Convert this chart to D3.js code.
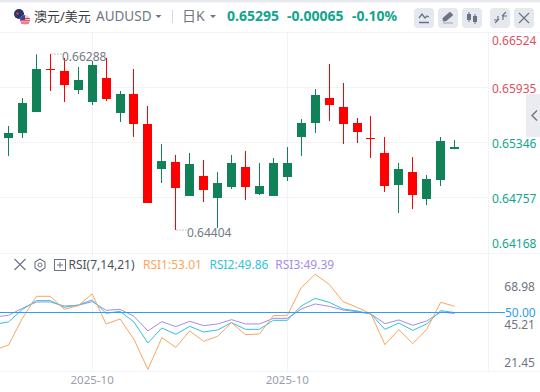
<!DOCTYPE html>
<html>
<head>
<meta charset="utf-8">
<script src="https://cdn.jsdelivr.net/npm/d3@7"></script>
<style>
  html, body { margin: 0; padding: 0; background: #fff; }
  svg { display: block; }
  text { font-family: "Noto Sans", "Noto Sans CJK SC", sans-serif; }
</style>
</head>
<body>
<div id="chart"></div>
<script>
const opens = [0.65442, 0.65764, 0.66128, 0.66124, 0.65956, 0.66010, 0.66171, 0.65806, 0.65860, 0.65539, 0.64693,
  0.65143, 0.64853, 0.65110, 0.64832, 0.64907, 0.65121, 0.64864, 0.64875, 0.65121, 0.65121, 0.65549,
  0.65849, 0.65742, 0.65539, 0.65453, 0.65382, 0.64875, 0.65057, 0.64778, 0.64950, 0.65357, 0.65292];
const closes = [0.65389, 0.65442, 0.65667, 0.66132, 0.66106, 0.65903, 0.65774, 0.66031, 0.65657, 0.65860, 0.65539,
  0.65057, 0.65132, 0.64768, 0.64982, 0.64746, 0.64864, 0.65078, 0.64789, 0.64768, 0.64971, 0.65400,
  0.65549, 0.65817, 0.65721, 0.65549, 0.65390, 0.65228, 0.64886, 0.65025, 0.64736, 0.64939, 0.65274];
const highs = [0.65517, 0.65817, 0.66284, 0.66288, 0.66246, 0.66149, 0.66213, 0.66246, 0.65892, 0.66128, 0.65732,
  0.65325, 0.65207, 0.65228, 0.65153, 0.65025, 0.65207, 0.65250, 0.65121, 0.65175, 0.65292, 0.65592,
  0.65914, 0.66181, 0.65978, 0.65603, 0.65624, 0.65400, 0.65121, 0.65185, 0.64993, 0.65400, 0.65367];
const lows = [0.65196, 0.65389, 0.65667, 0.65892, 0.65774, 0.65860, 0.65742, 0.65785, 0.65560, 0.65400, 0.64693,
  0.64907, 0.64404, 0.64768, 0.64703, 0.64425, 0.64843, 0.64725, 0.64778, 0.64768, 0.64928, 0.65196,
  0.65442, 0.65571, 0.65325, 0.65335, 0.65175, 0.64811, 0.64586, 0.64628, 0.64671, 0.64875, 0.65270];

// rsi arrays start one bar earlier than the candles, that bar is off screen
const rsi1 = [31.15, 33.65, 46.98, 57.98, 57.98, 51.48, 53.31, 59.15, 44.15, 46.65, 36.48, 21.45, 37.32, 32.48, 40.65, 35.48, 37.98,
  44.82, 38.82, 39.15, 48.32, 48.48, 62.32, 68.98, 63.98, 55.32, 52.48, 49.15, 33.82, 41.32, 34.32, 41.48, 54.98, 53.01];
const rsi2 = [43.98, 45.15, 51.48, 55.82, 55.82, 52.48, 53.65, 56.15, 49.48, 50.48, 45.15, 34.65, 42.15, 38.98, 42.98, 40.15, 41.15,
  44.82, 41.48, 41.48, 45.98, 45.98, 53.15, 56.98, 54.98, 51.65, 50.65, 49.15, 41.48, 44.65, 40.98, 44.15, 50.82, 49.86];
const rsi3 = [47.65, 48.48, 51.98, 55.15, 55.15, 53.15, 53.48, 55.32, 50.98, 51.48, 47.98, 40.65, 45.32, 42.82, 45.48, 43.32, 44.15,
  46.32, 44.15, 44.15, 46.98, 46.98, 51.65, 54.15, 52.98, 51.15, 50.32, 49.15, 44.32, 46.15, 43.48, 45.65, 50.15, 49.39];

const priceTicks = [0.66524, 0.65935, 0.65346, 0.64757, 0.64168];
const rsiTicks = [68.98, 45.21, 21.45];
const dateTicks = [[6, "2025-10"], [20, "2025-10"]];

const width = 540, height = 392;
const axisX = 488.5;
const gridColor = "#f2f3f6";
const upColor = "#ff0000", downColor = "#118257";
const teal = "#12a58c", grayText = "#6f7482";

const svg = d3.select("#chart").append("svg").attr("width", width).attr("height", height);

const sx = d3.scaleLinear().domain([0, 32]).range([8.5, 454.6]);
const crisp = v => Math.floor(v) + 0.5;
const sy = d3.scaleLinear().domain([0.64168, 0.66524]).range([252, 32]);
const sr = d3.scaleLinear().domain([21.45, 68.98]).range([369.4, 274.3]);
// rsi labels sit on their own spacing, not on the line scale
const srLabel = d3.scaleLinear().domain([21.45, 68.98]).range([362.7, 286.5]);

function drawFrame(sel) {
    sel.append("rect").attr("width", width).attr("height", 2.5).attr("fill", "#e8eaef");

    const hLines = [32.5, 253.5, 371.5].concat(priceTicks.slice(1, 4).map(d => Math.round(sy(d)) + 0.5));
    sel.selectAll("line.h").data(hLines).join("line")
        .attr("class", "h")
        .attr("x1", 0).attr("x2", d => d === 371.5 || d === 253.5 || d === 32.5 ? width : axisX)
        .attr("y1", d => d).attr("y2", d => d)
        .attr("stroke", gridColor);

    sel.selectAll("line.v").data(dateTicks).join("line")
        .attr("class", "v")
        .attr("x1", d => crisp(sx(d[0]))).attr("x2", d => crisp(sx(d[0])))
        .attr("y1", 32).attr("y2", 371)
        .attr("stroke", gridColor);

    sel.append("line")
        .attr("x1", axisX).attr("x2", axisX).attr("y1", 32).attr("y2", 371)
        .attr("stroke", gridColor);
}

function drawCandles(sel) {
    const idx = d3.range(opens.length);
    const color = i => closes[i] >= opens[i] ? upColor : downColor;

    sel.selectAll("line.wick").data(idx).join("line")
        .attr("class", "wick")
        .attr("x1", i => crisp(sx(i))).attr("x2", i => crisp(sx(i)))
        .attr("y1", i => sy(highs[i])).attr("y2", i => sy(lows[i]))
        .attr("stroke", color);

    sel.selectAll("rect.body").data(idx).join("rect")
        .attr("class", "body")
        .attr("x", i => crisp(sx(i)) - 4.5)
        .attr("width", 9)
        .attr("y", i => Math.round(sy(Math.max(opens[i], closes[i]))))
        .attr("height", i => Math.max(1, Math.round(Math.abs(sy(opens[i]) - sy(closes[i])))))
        .attr("fill", color);
}

function drawExtremes(sel) {
    const hi = d3.max(highs), lo = d3.min(lows);
    const marks = [[highs.indexOf(hi), hi], [lows.indexOf(lo), lo]];
    sel.selectAll("line.dots").data(marks).join("line")
        .attr("class", "dots")
        .attr("x1", d => crisp(sx(d[0])) + 1).attr("x2", d => crisp(sx(d[0])) + 11)
        .attr("y1", d => sy(d[1])).attr("y2", d => sy(d[1]))
        .attr("stroke", "#8a8f9b").attr("stroke-dasharray", "1,2");
    sel.selectAll("text.extreme").data(marks).join("text")
        .attr("class", "extreme")
        .attr("x", d => crisp(sx(d[0])) + 11.5)
        .attr("y", d => sy(d[1]) + 7)
        .attr("font-size", 12).attr("fill", "#747986")
        .text(d => d[1].toFixed(5));
}

function drawPriceAxis(sel) {
    sel.selectAll("text.price").data(priceTicks).join("text")
        .attr("class", "price")
        .attr("x", 492)
        .attr("y", d => Math.min(244, Math.max(40.7, sy(d) + 1.8)) + 4.3)
        .attr("font-size", 12)
        .attr("fill", d => d > 0.65295 && d > 0.654 ? "#e0505f" : teal)
        .text(d => d.toFixed(5));
}

function drawRsi(sel) {
    const line = d3.line().x((_, i) => sx(i - 1)).y(d => sr(d));
    const series = [[rsi3, "#a88ce6"], [rsi2, "#2fc3dd"], [rsi1, "#f9a75e"]];

    sel.selectAll("path.rsi").data(series).join("path")
        .attr("class", "rsi")
        .attr("d", d => line(d[0]))
        .attr("fill", "none")
        .attr("stroke", d => d[1])
        .attr("stroke-width", 1);

    sel.append("line")
        .attr("x1", 0).attr("x2", 505)
        .attr("y1", Math.floor(sr(50)) + 0.5).attr("y2", Math.floor(sr(50)) + 0.5)
        .attr("stroke", "#2f9df4");
    sel.append("text")
        .attr("x", 505).attr("y", sr(50) + 5.2)
        .attr("font-size", 12).attr("fill", "#2f9df4")
        .text("50.00");

    sel.selectAll("text.rsiTick").data(rsiTicks).join("text")
        .attr("class", "rsiTick")
        .attr("x", 535).attr("y", d => srLabel(d) + 4.3)
        .attr("text-anchor", "end")
        .attr("font-size", 12).attr("fill", grayText)
        .text(d => d.toFixed(2));

    sel.selectAll("text.date").data(dateTicks).join("text")
        .attr("class", "date")
        .attr("x", d => sx(d[0])).attr("y", 384)
        .attr("text-anchor", "middle")
        .attr("font-size", 11.5).attr("fill", "#9a9fab")
        .text(d => d[1]);

    // legend row
    const icon = "#6d7283";
    const legend = sel.append("g");
    legend.append("path").attr("d", "M14.5 259 L25.5 270 M25.5 259 L14.5 270")
        .attr("stroke", icon).attr("stroke-width", 1.1).attr("fill", "none");
    legend.append("path").attr("d", "M40 259 L45 262 L45 268 L40 271 L35 268 L35 262 Z")
        .attr("stroke", icon).attr("stroke-width", 1.1).attr("fill", "none");
    legend.append("circle").attr("cx", 40).attr("cy", 265).attr("r", 2)
        .attr("stroke", icon).attr("fill", "none");
    legend.append("rect").attr("x", 54.5).attr("y", 259.5).attr("width", 11).attr("height", 11)
        .attr("stroke", icon).attr("fill", "none");
    legend.append("path").attr("d", "M57 265 H63 M60 262 V268").attr("stroke", icon).attr("fill", "none");

    const labels = [
        ["RSI(7,14,21)", 68.5, "#4b4f5a"],
        ["RSI1:53.01", 143, "#f9a75e"],
        ["RSI2:49.86", 209.5, "#2fc3dd"],
        ["RSI3:49.39", 275.3, "#a88ce6"]
    ];
    legend.selectAll("text").data(labels).join("text")
        .attr("x", d => d[1]).attr("y", 269.3)
        .attr("font-size", 12).attr("fill", d => d[2])
        .text(d => d[0]);
}

function drawHeader(sel) {
    // flag, round badge with the two countries overlapping
    sel.append("circle").attr("cx", 19).attr("cy", 14).attr("r", 5).attr("fill", "#27356f");
    sel.append("circle").attr("cx", 17.5).attr("cy", 13.5).attr("r", 1.3).attr("fill", "#d9394a");
    sel.append("circle").attr("cx", 25).attr("cy", 20).attr("r", 5).attr("fill", "#f4c9ce");
    sel.append("path").attr("d", "M20.3 18.5 H29.7 M20 20.8 H30 M21 23 H29").attr("stroke", "#d9394a").attr("stroke-width", 1.1);
    sel.append("path").attr("d", "M20.5 18 A5 5 0 0 1 25 15 V20 H20 Z").attr("fill", "#3a4a8c");

    const texts = [
        ["澳元/美元", 34, 13, "#3a3d45", 400],
        ["AUDUSD", 96, 13.5, "#72777f", 400],
        ["日K", 182, 14, "#72777f", 400],
        ["0.65295", 227, 14, teal, 700],
        ["-0.00065", 287, 14, teal, 700],
        ["-0.10%", 352, 14, teal, 700]
    ];
    sel.selectAll("text").data(texts).join("text")
        .attr("x", d => d[1]).attr("y", 20.5)
        .attr("font-size", d => d[2]).attr("fill", d => d[3]).attr("font-weight", d => d[4])
        .text(d => d[0]);

    sel.append("path").attr("d", "M155.5 15 H161.5 L158.5 18 Z M210 15 H216 L213 18 Z").attr("fill", "#72777f");
    sel.append("line").attr("x1", 172.5).attr("x2", 172.5).attr("y1", 10).attr("y2", 23).attr("stroke", "#d5d8de");

    const buttons = [414, 438, 462, 490, 514];
    sel.selectAll("rect.btn").data(buttons).join("rect")
        .attr("class", "btn")
        .attr("x", d => d).attr("y", 8).attr("width", 20).attr("height", 20).attr("rx", 4)
        .attr("fill", "#e6e8ef");

    const icon = "#6d7283";
    sel.append("path").attr("d", "M419 18 L422 14 L425 18 L427 16 L429 17 M419 22.5 H429")
        .attr("stroke", icon).attr("stroke-width", 1.3).attr("fill", "none");
    sel.append("path").attr("d", "M443 21 L443 18 L450 12 L453 15 L446 21 Z M443 23 H453").attr("fill", icon).attr("stroke", icon).attr("stroke-width", 0.6);
    sel.append("path").attr("d", "M469 12 V22 M475 14 V24").attr("stroke", icon).attr("fill", "none");
    sel.append("rect").attr("x", 467).attr("y", 14).attr("width", 4).attr("height", 6).attr("fill", icon);
    sel.append("rect").attr("x", 473).attr("y", 16).attr("width", 4).attr("height", 6).attr("fill", icon);
    sel.append("path").attr("d", "M495 23 L499 19 M506 12 L502 16 M498 16 V20 H494 M503 20 V16 H507")
        .attr("stroke", icon).attr("stroke-width", 1.2).attr("fill", "none");
    sel.append("path").attr("d", "M519 13 L529 23 M529 13 L519 23").attr("stroke", icon).attr("stroke-width", 1.2).attr("fill", "none");
}

function drawHandle(sel) {
    sel.append("rect").attr("x", 526).attr("y", 94).attr("width", 14).attr("height", 43).attr("fill", "#ebecf1");
    sel.append("path").attr("d", "M537 110.5 L532 115.5 L537 120.5").attr("stroke", "#6d7283").attr("stroke-width", 1.4).attr("fill", "none");
}

svg.call(drawFrame);
svg.append("g").call(drawCandles);
svg.append("g").call(drawExtremes);
svg.append("g").call(drawHandle);
svg.append("g").call(drawPriceAxis);
svg.append("g").call(drawRsi);
svg.append("g").call(drawHeader);
</script>
</body>
</html>
